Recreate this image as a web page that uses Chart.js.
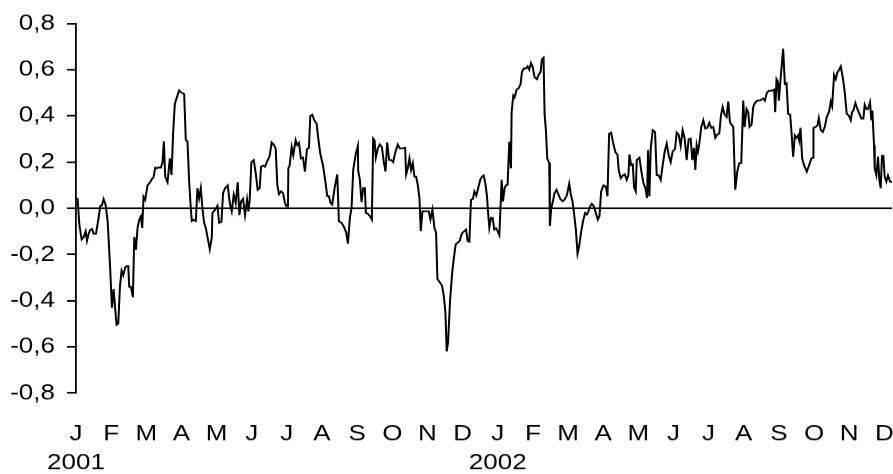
<!DOCTYPE html>
<html>
<head>
<meta charset="utf-8">
<script src="https://cdn.jsdelivr.net/npm/chart.js@4.4.1/dist/chart.umd.min.js"></script>
<style>
  html, body { margin: 0; padding: 0; background: #fff; width: 893px; height: 474px; overflow: hidden; }
  /* the figure is laid out a little taller and pressed to 474px, which widens the lettering */
  #wrap { width: 893px; height: 558px; transform: scaleY(0.85); transform-origin: 0 0; }
</style>
</head>
<body>
<div id="wrap"><canvas id="chart" width="893" height="558"></canvas></div>
<script>
// Trading-day index (0 = first trading day of January 2001)
const day = [
  0,1,2,3.4,4.6,5.8,6.6,7.4,8.4,9.6,10.6,12,13.4,14.6,15.6,16.6,17.8,19,20.4,21.6,
  22.6,23.6,24.4,25.4,26.4,27.4,28.4,29.6,30.6,31.4,32,33,34.2,35,36,37,38,39,39.8,40.6,
  41.6,43,44.6,45.6,46.6,47.6,48.6,49.6,51,52,52.8,53.6,55,56.4,57.4,58.4,59.4,60.6,62,63.6,
  65,66,67,68,69,69.6,70.6,72,73,74,75,76,77,
  78,80.4,81.6,82,83.6,85,86,87.4,88.4,89.6,91.2,92.4,93.6,94.8,96,97.2,98.2,99.2,100.4,101.6,
  102.8,103.6,104.4,105.4,106.8,108,109.2,110.4,111.2,112.4,113.6,115,116.4,117.6,118.8,120,121,122,123.2,124.4,
  125.6,126.4,127.4,127.6,128.4,129.6,130.6,132,133,134,135.2,136.4,137.6,138.8,140,140.8,142,143.2,144.6,145.6,
  146.8,148.4,150,151,152,153,154,155.4,157,158,
  159.6,161,162.4,163.4,164.6,165.6,166.6,168,169.4,169.6,170.6,171.6,172.6,173.6,174.2,175.4,176.6,177.8,178.6,179.4,
  180.2,181.4,182.6,183.8,185,186,187,188.2,189.4,190.6,192,193.4,194.6,196,197.8,198.4,199.4,200.4,201.4,202.4,
  203.4,204.4,205.4,206.4,207.2,208.2,209.4,211,212,213,214.2,215.4,216.4,217.2,218.6,220,221,222,222.8,223.6,
  224.8,226,227,228.2,229.4,230.6,231.4,232.2,233.4,234.4,235.4,236.4,237.4,238.6,239.4,
  240.6,241.8,243,244,245,246,247,247.6,248.4,249.4,250.4,251.4,252.4,253.4,254.4,255.2,255.8,256.6,257.6,258.4,
  259.4,260.4,261.4,261.8,262.8,263.6,264.8,266,267.2,268,269.2,270.4,271.4,272.4,273.4,274.4,275.6,277,278,279.2,
  280,281,281.6,282.4,283.2,284.4,284.8,285.6,286.6,287.6,288.8,290,291,292.4,293.6,295,296.4,297.4,298.4,299.4,
  300.4,301.4,302.4,303.6,304.8,306,307,308,309,310,311.2,312.4,313.6,314.6,315.6,317,318.4,319.4,320.4,321.6,
  322.6,324.2,325.4,326.2,327.4,328.6,329.8,331,332,332.6,333.6,334.6,335.4,336.4,337,338.6,339.8,341,342.2,343.2,
  343.8,344.6,345.4,346.6,348,349,350.2,351.4,352.6,353.8,355,356.2,357.4,358.6,360,361,362.2,363.4,364.6,365.8,
  367,368.2,369.4,370.4,371.4,372.2,373,373.8,374.6,375.8,377,378.2,379.4,380.6,381.8,383,384.2,385.4,386.6,387.6,
  388.6,389.8,391,392,393,394,395,396.2,397.4,398.6,399.8,401,401.8,
  403,404,404.8,406,407,408,409.4,411,412,413,414,415.2,416.4,418,419.6,420.2,421,421.8,422.4,423.6,
  425,426,427,428,429.2,430,431,432,433,434,434.6,435.4,436.4,437.6,439.2,440.6,442,443,443.2,444.4,
  445.6,446.4,447.6,448.8,450,451.2,452.6,453.6,454.4,455.6,456.6,457.6,458.6,459.6,461,462,463.2,464.4,465.6,466.4,
  467.2,468.4,469.6,470.8,472,473.2,474,475,476,477.2,478,478.6,479.6,480,481,482,482.8,483.6,484.4,485.2,
  486,487,488,489.2,490.4
];

// Daily series value
const value = [
  0.044,0.04,-0.07,-0.135,-0.125,-0.10,-0.14,-0.115,-0.095,-0.09,-0.11,-0.11,-0.05,0.01,0.013,0.04,0.015,-0.055,-0.24,-0.43,
  -0.35,-0.44,-0.505,-0.50,-0.34,-0.27,-0.29,-0.255,-0.25,-0.25,-0.34,-0.34,-0.385,-0.125,-0.18,-0.085,-0.05,-0.035,-0.085,0.05,
  0.037,0.10,0.113,0.127,0.134,0.176,0.173,0.177,0.176,0.20,0.29,0.137,0.113,0.216,0.144,0.33,0.452,0.48,0.51,0.50,
  0.495,0.295,0.29,0.116,0.0,-0.055,-0.05,-0.055,0.087,0.044,0.087,0.0,-0.063,
  -0.085,-0.177,-0.127,-0.02,-0.006,0.011,-0.063,-0.059,0.066,0.087,0.099,0.023,-0.013,0.059,0.023,0.113,-0.03,0.03,0.041,-0.03,
  0.037,-0.013,0.037,0.20,0.209,0.152,0.08,0.087,0.18,0.185,0.18,0.205,0.227,0.285,0.276,0.259,0.10,0.061,0.073,0.066,
  0.023,0.009,0.009,0.173,0.185,0.266,0.23,0.295,0.273,0.283,0.216,0.219,0.159,0.256,0.262,0.40,0.405,0.381,0.366,0.302,
  0.237,0.187,0.109,0.052,0.052,0.023,0.016,0.087,0.147,-0.056,
  -0.063,-0.08,-0.106,-0.153,-0.041,0.0,0.166,0.23,0.27,0.162,0.123,0.027,0.087,0.087,-0.02,-0.024,-0.034,-0.049,0.302,0.295,
  0.219,0.259,0.276,0.266,0.20,0.159,0.285,0.209,0.209,0.20,0.245,0.276,0.259,0.259,0.262,0.147,0.173,0.216,0.166,0.195,
  0.137,0.137,0.102,0.044,-0.099,-0.013,-0.013,-0.013,-0.013,-0.049,-0.006,-0.084,-0.106,-0.306,-0.32,-0.335,-0.378,-0.45,-0.62,-0.58,
  -0.40,-0.285,-0.22,-0.156,-0.149,-0.142,-0.12,-0.106,-0.099,-0.092,-0.142,-0.145,0.037,0.041,0.073,
  0.055,0.09,0.125,0.137,0.142,0.109,0.052,-0.013,-0.084,-0.041,-0.041,-0.092,-0.087,-0.099,-0.116,0.016,0.123,0.03,0.087,0.099,
  0.102,0.288,0.173,0.416,0.488,0.48,0.514,0.519,0.538,0.59,0.605,0.605,0.614,0.60,0.628,0.614,0.567,0.559,0.577,0.59,
  0.645,0.652,0.409,0.338,0.216,0.195,-0.077,0.0,0.03,0.066,0.08,0.059,0.041,0.03,0.037,0.056,0.106,0.059,0.03,-0.027,
  -0.092,-0.196,-0.163,-0.102,-0.053,-0.02,-0.027,-0.013,0.009,0.019,0.009,-0.02,-0.049,-0.034,0.073,0.099,0.094,0.052,0.323,0.328,
  0.29,0.242,0.233,0.162,0.13,0.142,0.147,0.123,0.144,0.233,0.187,0.19,0.09,0.073,0.209,0.219,0.159,0.109,0.087,0.044,
  0.252,0.052,0.259,0.338,0.33,0.144,0.142,0.123,0.187,0.245,0.28,0.23,0.20,0.247,0.256,0.328,0.319,0.27,0.338,0.302,
  0.209,0.299,0.302,0.209,0.262,0.166,0.273,0.245,0.28,0.352,0.381,0.345,0.348,0.37,0.348,0.352,0.305,0.319,0.323,0.402,
  0.438,0.405,0.395,0.462,0.373,0.362,0.352,0.08,0.159,0.195,0.195,0.466,0.352,
  0.43,0.416,0.352,0.362,0.438,0.456,0.466,0.466,0.471,0.476,0.466,0.50,0.509,0.509,0.514,0.416,0.559,0.548,0.466,0.574,
  0.691,0.538,0.542,0.409,0.405,0.33,0.223,0.316,0.305,0.316,0.295,0.348,0.216,0.185,0.159,0.187,0.216,0.219,0.348,0.352,
  0.359,0.39,0.338,0.33,0.352,0.395,0.419,0.462,0.442,0.577,0.559,0.588,0.60,0.614,0.559,0.502,0.409,0.402,0.381,0.416,
  0.423,0.456,0.43,0.409,0.388,0.388,0.448,0.43,0.43,0.459,0.381,0.423,0.273,0.173,0.144,0.223,0.123,0.087,0.227,0.227,
  0.137,0.116,0.142,0.116,0.113
];

// Month initials for Jan 2001 .. Dec 2002, year shown under each January
const monthLabels = ['J','F','M','A','M','J','J','A','S','O','N','D',
                     'J','F','M','A','M','J','J','A','S','O','N','D'];
const yearLabels = ['2001', '2002'];
const yTickValues = [-0.8, -0.6, -0.4, -0.2, 0, 0.2, 0.4, 0.6, 0.8];
const TRADING_DAYS_PER_MONTH = 21.12;

if (day.length !== value.length) {
  throw new Error('day/value length mismatch: ' + day.length + ' vs ' + value.length);
}

const points = day.map((d, i) => ({ x: d, y: value[i] }));
const FONT = '"Liberation Sans", Arial, Helvetica, sans-serif';

new Chart(document.getElementById('chart'), {
  type: 'line',
  data: {
    datasets: [{
      data: points,
      borderColor: '#000',
      borderWidth: 2,
      pointRadius: 0,
      tension: 0,
      fill: false
    }]
  },
  options: {
    responsive: false,
    animation: false,
    devicePixelRatio: 1,
    layout: { padding: { top: 24.4, right: 1, bottom: 0, left: 0 } },
    plugins: { legend: { display: false }, tooltip: { enabled: false } },
    scales: {
      x: {
        type: 'linear',
        min: 0,
        max: day[day.length - 1],
        afterBuildTicks: s => {
          s.ticks = monthLabels.map((_, k) => ({ value: k * TRADING_DAYS_PER_MONTH }));
        },
        afterFit: s => {
          s.height = 95.6;
          s.paddingLeft = 0;
          s.paddingRight = 0;
        },
        ticks: {
          autoSkip: false,
          maxRotation: 0,
          minRotation: 0,
          padding: 32,
          color: '#000',
          font: { family: FONT, size: 26, lineHeight: 1.29 },
          callback: (v, i) => (i % 12 === 0)
            ? [monthLabels[i], yearLabels[Math.floor(i / 12)]]
            : monthLabels[i]
        },
        grid: { display: false, drawTicks: false },
        border: { display: false }
      },
      y: {
        min: -0.8,
        max: 0.8,
        afterBuildTicks: s => { s.ticks = yTickValues.map(v => ({ value: v })); },
        afterFit: s => { s.width = 76; },
        ticks: {
          padding: 12,
          color: '#000',
          font: { family: FONT, size: 26 },
          callback: v => v.toFixed(1).replace('.', ',')
        },
        grid: {
          drawOnChartArea: true,
          color: ctx => (ctx.tick && ctx.tick.value === 0) ? '#000' : 'rgba(0,0,0,0)',
          lineWidth: 2,
          tickColor: '#000',
          tickWidth: 2,
          tickLength: 9
        },
        border: { display: true, color: '#000', width: 1.8 }
      }
    }
  }
});
</script>
</body>
</html>
